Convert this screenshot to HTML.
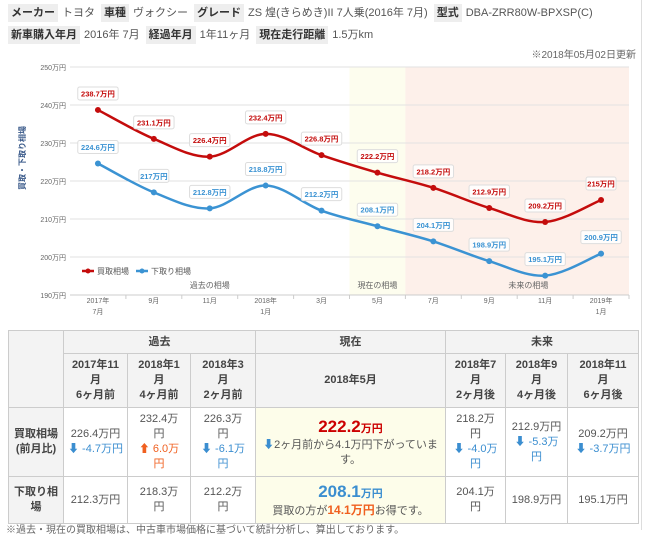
<!DOCTYPE html>
<html><head><meta charset="utf-8">
<style>
body{margin:0;width:650px;height:530px;overflow:hidden;background:#fff;font-family:"Liberation Sans","Noto Sans CJK JP",sans-serif;color:#555;font-size:11px;position:relative}
.hd{position:absolute;left:8px;white-space:nowrap;font-size:11px}
.hd b{background:#eee;color:#333;padding:3px 3px;margin-right:4px}
.hd span{margin-right:6px}
table{position:absolute;left:8px;top:330px;border-collapse:collapse;font-size:11px;color:#555;table-layout:fixed;width:630px}
td,th{border:1px solid #ccc;text-align:center;padding:0 2px;line-height:15px;overflow:hidden}
td *,th *{line-height:15px}
th{background:#f3f3f3;color:#444}
.cur{background:#fdfdea}
.dn{color:#3b8ed0}.up{color:#f06020}
.big{height:22px;line-height:22px!important;font-weight:bold}
.big span{line-height:22px}
</style></head><body>
<div class="hd" style="top:4px"><b>メーカー</b><span>トヨタ</span><b>車種</b><span>ヴォクシー</span><b>グレード</b><span>ZS 煌(きらめき)II 7人乗(2016年 7月)</span><b>型式</b><span>DBA-ZRR80W-BPXSP(C)</span></div>
<div class="hd" style="top:26px"><b>新車購入年月</b><span>2016年 7月</span><b>経過年月</b><span>1年11ヶ月</span><b>現在走行距離</b><span>1.5万km</span></div>
<div style="position:absolute;right:14px;top:46px;font-size:10px;color:#666">※2018年05月02日更新</div>
<div style="position:absolute;left:641px;top:0;width:1px;height:530px;background:#ddd"></div>
<svg id="chart" width="650" height="330" style="position:absolute;left:0;top:0"></svg>
<table>
<colgroup><col style="width:55px"><col style="width:64px"><col style="width:63px"><col style="width:65px"><col style="width:190px"><col style="width:60px"><col style="width:62px"><col style="width:71px"></colgroup>
<tr style="height:23px"><th rowspan="2"></th><th colspan="3">過去</th><th>現在</th><th colspan="3">未来</th></tr>
<tr style="height:54px"><th>2017年11<br>月<br>6ヶ月前</th><th>2018年1<br>月<br>4ヶ月前</th><th>2018年3<br>月<br>2ヶ月前</th><th>2018年5月</th><th>2018年7<br>月<br>2ヶ月後</th><th>2018年9<br>月<br>4ヶ月後</th><th>2018年11<br>月<br>6ヶ月後</th></tr>
<tr style="height:69px"><th>買取相場<br>(前月比)</th><td>226.4万円<br><span class="dn">⬇ -4.7万円</span></td><td>232.4万<br>円<br><span class="up">⬆ 6.0万<br>円</span></td><td>226.3万<br>円<br><span class="dn">⬇ -6.1万<br>円</span></td><td class="cur"><div class="big"><span style="color:#c00;font-size:17px">222.2</span><span style="color:#c00">万円</span></div><span class="dn">⬇</span>2ヶ月前から4.1万円下がっていま<br>す。</td><td>218.2万<br>円<br><span class="dn">⬇ -4.0万<br>円</span></td><td>212.9万円<br><span class="dn">⬇ -5.3万<br>円</span></td><td>209.2万円<br><span class="dn">⬇ -3.7万円</span></td></tr>
<tr style="height:47px"><th>下取り相<br>場</th><td>212.3万円</td><td>218.3万<br>円</td><td>212.2万<br>円</td><td class="cur"><div class="big"><span style="color:#3b8ed0;font-size:17px">208.1</span><span style="color:#3b8ed0">万円</span></div>買取の方が<span class="up" style="font-weight:bold;font-size:12px">14.1万円</span>お得です。</td><td>204.1万<br>円</td><td>198.9万円</td><td>195.1万円</td></tr>
</table>
<div style="position:absolute;left:6px;top:525px;font-size:10px;line-height:12px;color:#666;white-space:nowrap">※過去・現在の買取相場は、中古車市場価格に基づいて統計分析し、算出しております。</div>
<script>
const months=["2017年|7月","9月","11月","2018年|1月","3月","5月","7月","9月","11月","2019年|1月"];
const kaitori=[238.7,231.1,226.4,232.4,226.8,222.2,218.2,212.9,209.2,215];
const shitadori=[224.6,217,212.8,218.8,212.2,208.1,204.1,198.9,195.1,200.9];
const yTicks=[190,200,210,220,230,240,250];
const NS="http://www.w3.org/2000/svg";
const svg=document.getElementById('chart');
const X0=70,X1=629,Y0=295,Y1=67;
const step=(X1-X0)/10;
const x=i=>X0+step*(i+0.5);
const y=v=>Y0-(v-190)/60*(Y0-Y1);
function mk(t,a,p){const e=document.createElementNS(NS,t);for(const k in a)e.setAttribute(k,a[k]);(p||svg).appendChild(e);return e;}
const b1=mk('rect',{x:X0+step*5,y:Y1,width:step,height:Y0-Y1,fill:'#fdfdee'});


const b2=mk('rect',{x:X0+step*6,y:Y1,width:X1-X0-step*6,height:Y0-Y1,fill:'#fdf0ea'});


yTicks.forEach(v=>{
  mk('line',{x1:X0,x2:X1,y1:y(v),y2:y(v),stroke:v==190?'#ccc':'#e2e2e2','stroke-width':1});
  const t=mk('text',{x:66,y:y(v)+3,'text-anchor':'end','font-size':7,fill:'#666'});t.textContent=v+'万円';
  
  
});
const yt=mk('text',{x:0,y:0,transform:'translate(25,158) rotate(-90)','text-anchor':'middle','font-size':8,fill:'#3a5a8a','font-weight':'bold'});yt.textContent='買取・下取り相場';


months.forEach((m,i)=>{
  mk('line',{x1:X0+step*(i+1),x2:X0+step*(i+1),y1:Y0,y2:Y0+4,stroke:'#ccc'});
  m.split('|').forEach((s,j)=>{const t=mk('text',{x:x(i),y:303+j*11,'text-anchor':'middle','font-size':7,fill:'#666'});t.textContent=s;
  
  });
});
[['過去の相場',X0+step*2.5],['現在の相場',X0+step*5.5],['未来の相場',X0+step*8.2]].forEach(a=>{const t=mk('text',{x:a[1],y:288,'text-anchor':'middle','font-size':8,fill:'#666'});t.textContent=a[0];

});
function path(vals){const p=vals.map((v,i)=>[x(i),y(v)]);let d='M'+p[0];for(let i=0;i<p.length-1;i++){const a=p[i-1]||p[i],b=p[i],c=p[i+1],e=p[i+2]||c;d+=' C'+(b[0]+(c[0]-a[0])/6)+','+(b[1]+(c[1]-a[1])/6)+' '+(c[0]-(e[0]-b[0])/6)+','+(c[1]-(e[1]-b[1])/6)+' '+c[0]+','+c[1];}return d;}
function series(vals,col,name){
  const g=mk('g',{});
  
  
  mk('path',{d:path(vals),fill:'none',stroke:col,'stroke-width':2.5},g);
  vals.forEach((v,i)=>{
    mk('circle',{cx:x(i),cy:y(v),r:3,fill:col},g);
    const lbl=(Math.round(v*10)/10)+'万円';
    const w=lbl.length*5.2+4;
    mk('rect',{x:x(i)-w/2,y:y(v)-23,width:w,height:13,rx:2,fill:'rgba(255,255,255,0.85)',stroke:'#ddd'},g);
    const t=mk('text',{x:x(i),y:y(v)-13.5,'text-anchor':'middle','font-size':7.5,'font-weight':'bold',fill:col},g);t.textContent=lbl;
    
    
  });
}
series(kaitori,'#c40c0c','kaitori');
series(shitadori,'#3b93d3','shitadori');
[['#c40c0c','買取相場',82],['#3b93d3','下取り相場',136]].forEach(a=>{
  const g=mk('g',{});
  
  
  mk('line',{x1:a[2],x2:a[2]+12,y1:271,y2:271,stroke:a[0],'stroke-width':2.5},g);
  mk('circle',{cx:a[2]+6,cy:271,r:2.5,fill:a[0]},g);
  const t=mk('text',{x:a[2]+15,y:274,'font-size':8,fill:'#555'},g);t.textContent=a[1];
});
</script>
</body></html>
